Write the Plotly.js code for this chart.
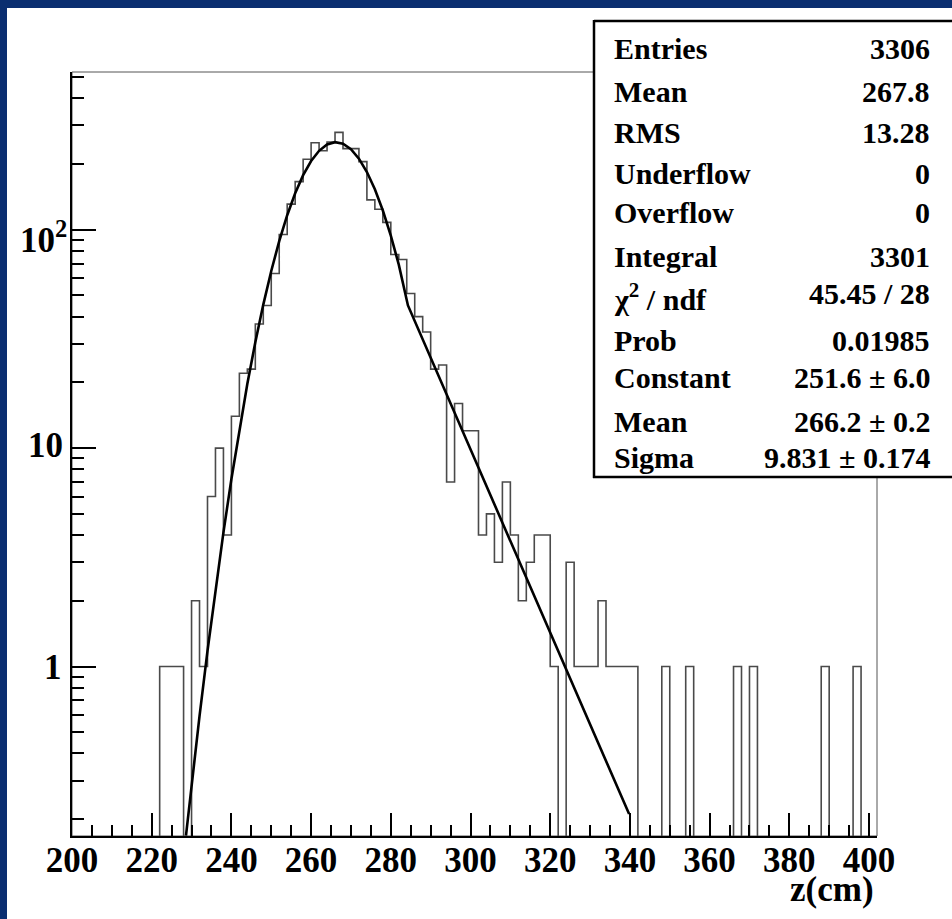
<!DOCTYPE html>
<html>
<head>
<meta charset="utf-8">
<script src="https://cdn.plot.ly/plotly-3.0.1.min.js"></script>
<style>
  html, body { margin: 0; padding: 0; width: 952px; height: 919px; overflow: hidden; background: #0a2e70; }
  #chart { position: absolute; left: 7px; top: 8px; width: 945px; height: 911px; background: #ffffff; }
</style>
</head>
<body>
<div id="chart"></div>
<script>
// ---- Data ----
// Histogram bin low edges (cm) and counts (2 cm bins)
const binLow = [220,222,224,226,228,230,232,234,236,238,240,242,244,246,248,250,252,254,256,258,
                260,262,264,266,268,270,272,274,276,278,280,282,284,286,288,290,292,294,296,298,
                300,302,304,306,308,310,312,314,316,318,320,322,324,326,328,330,332,334,336,338,
                340,342,344,346,348,350,352,354,356,358,360,362,364,366,368,370,372,374,376,378,
                380,382,384,386,388,390,392,394,396,398];
const counts = [0,1,1,1,0,2,1,6,10,4,14,22,23,37,45,63,95,131,166,210,
                250,230,252,279,235,235,205,137,124,108,77,73,51,40,34,23,24,7,16,12,
                12,4,5,3,7,4,2,3,4,4,1,0,3,1,1,1,2,1,1,1,
                1,0,0,0,1,0,0,1,0,0,0,0,0,1,0,1,0,0,0,0,
                0,0,0,0,1,0,0,0,1,0];
const lastEdge = 400;

// Fit curve (z in cm, value)
const fitX = [228.6,230,232,234,236,238,240,242,244,246,248,250,252,254,256,258,260,262,264,266,
              268,270,272,274,276,278,280,282,284.3,339.8];
const fitY = [0.168,0.286,0.593,1.18,2.25,4.11,7.22,12.2,19.7,30.5,45.4,64.7,88.7,116.5,146.9,177.7,206.2,229.7,245.4,251.6,
              247.4,233.5,211.4,183.7,153.1,122.4,93.9,69.2,45,0.211];

// Axis ticks
const xTickVals = [200,220,240,260,280,300,320,340,360,380,400];
const yTickVals = [1,10,100];
const yTickText = ['1','10','10<sup>2</sup>'];
const yMinorVals = [0.2,0.3,0.4,0.5,0.6,0.7,0.8,0.9,2,3,4,5,6,7,8,9,20,30,40,50,60,70,80,90,200,300,400,500];
const xTitle = 'z(cm)';

// Stats box
const statLabels = ['Entries','Mean','RMS','Underflow','Overflow','Integral','χ<sup>2</sup> / ndf','Prob','Constant','Mean','Sigma'];
const statValues = ['3306','267.8','13.28','0','0','3301','45.45 / 28','0.01985','251.6 ± 6.0','266.2 ± 0.2','9.831 ± 0.174'];

// ---- Geometry (page pixels) ----
const DIV_L = 7, DIV_T = 8;
const PL = 72, PR = 877, PT = 72, PB = 836;
const W = PR - PL, H = PB - PT;
const px2x = p => (p - PL) / W;
const py2y = p => (PB - p) / H;

const FLOOR = 1e-3; // zero bins drawn below the axis floor
const histX = binLow.concat([lastEdge]);
const histY = counts.map(v => v > 0 ? v : FLOOR).concat([FLOOR]);

const FONT = 'Liberation Serif, Times New Roman, serif';
const statFont = { family: FONT, size: 30, color: '#000', weight: 'bold' };
const axFont = { family: FONT, size: 35, color: '#000', weight: 'bold' };

const traces = [
  {
    type: 'scatter', mode: 'lines', x: histX, y: histY,
    line: { shape: 'hv', color: '#4a4a4a', width: 1.6 },
    hoverinfo: 'skip', showlegend: false
  },
  {
    type: 'scatter', mode: 'lines', x: fitX, y: fitY,
    line: { color: '#000000', width: 2.6 },
    hoverinfo: 'skip', showlegend: false
  }
];

const rowCenters = [49, 91.7, 132, 173, 213, 256.7, 297, 340, 378, 422, 457];
const valueCenters = [49, 91.7, 132, 173, 213, 256.7, 293, 340, 378, 422, 457];

const annotations = [];
statLabels.forEach((t, i) => {
  annotations.push({
    xref: 'paper', yref: 'paper', x: px2x(612), y: py2y(rowCenters[i]),
    xanchor: 'left', yanchor: 'middle', text: t, showarrow: false, font: statFont
  });
  annotations.push({
    xref: 'paper', yref: 'paper', x: px2x(932), y: py2y(valueCenters[i]),
    xanchor: 'right', yanchor: 'middle', text: statValues[i], showarrow: false, font: statFont
  });
});
// y tick labels (placed on the log axis)
const yLabRight = [64, 65, 69];
const yLabShift = [-1, 3, -8];
yTickVals.forEach((v, i) => {
  annotations.push({
    xref: 'paper', yref: 'y', x: px2x(yLabRight[i]), y: Math.log10(v),
    xanchor: 'right', yanchor: 'middle', yshift: yLabShift[i],
    text: yTickText[i], showarrow: false, font: axFont
  });
});
annotations.push({
  xref: 'paper', yref: 'paper', x: px2x(876), y: py2y(889),
  xanchor: 'right', yanchor: 'middle', text: xTitle, showarrow: false, font: axFont
});

const layout = {
  width: 945, height: 911,
  margin: { l: PL - DIV_L, r: 952 - PR, t: PT - DIV_T, b: 919 - PB, pad: 0 },
  paper_bgcolor: '#ffffff', plot_bgcolor: '#ffffff',
  showlegend: false,
  xaxis: {
    type: 'linear', range: [200, 402],
    tickmode: 'array', tickvals: xTickVals,
    ticks: 'inside', ticklen: 23, tickwidth: 2, tickcolor: '#000',
    minor: { dtick: 5, tick0: 200, ticks: 'inside', ticklen: 11, tickwidth: 2, tickcolor: '#000', showgrid: false },
    showline: true, linewidth: 2, linecolor: '#000', mirror: false,
    showgrid: false, zeroline: false,
    tickfont: axFont,
    ticklabelstandoff: -8
  },
  yaxis: {
    type: 'log', range: [-0.776, 2.722],
    tickmode: 'array', tickvals: yTickVals,
    showticklabels: false,
    ticks: 'inside', ticklen: 24, tickwidth: 2, tickcolor: '#000',
    minor: { tickmode: 'array', tickvals: yMinorVals, ticks: 'inside', ticklen: 12, tickwidth: 2, tickcolor: '#000', showgrid: false },
    showline: true, linewidth: 2, linecolor: '#000', mirror: false,
    showgrid: false, zeroline: false
  },
  shapes: [
    // frame (top/right thin lines)
    { type: 'rect', xref: 'paper', yref: 'paper', x0: 0, x1: 1, y0: 0, y1: 1,
      line: { color: '#555555', width: 1 }, fillcolor: 'rgba(0,0,0,0)', layer: 'below' },
    // stats box fill
    { type: 'rect', xref: 'paper', yref: 'paper',
      x0: px2x(594), x1: px2x(990), y0: py2y(477), y1: py2y(21),
      line: { width: 0 }, fillcolor: '#ffffff', layer: 'above' },
    // stats box borders (left, top, bottom)
    { type: 'line', xref: 'paper', yref: 'paper', x0: px2x(594), x1: px2x(594), y0: py2y(478), y1: py2y(20),
      line: { color: '#000', width: 2.5 }, layer: 'above' },
    { type: 'line', xref: 'paper', yref: 'paper', x0: px2x(594), x1: px2x(990), y0: py2y(21), y1: py2y(21),
      line: { color: '#000', width: 2.5 }, layer: 'above' },
    { type: 'line', xref: 'paper', yref: 'paper', x0: px2x(593), x1: px2x(990), y0: py2y(477), y1: py2y(477),
      line: { color: '#000', width: 2.5 }, layer: 'above' }
  ],
  annotations: annotations
};

Plotly.newPlot('chart', traces, layout, { staticPlot: true, displayModeBar: false });
</script>
</body>
</html>
